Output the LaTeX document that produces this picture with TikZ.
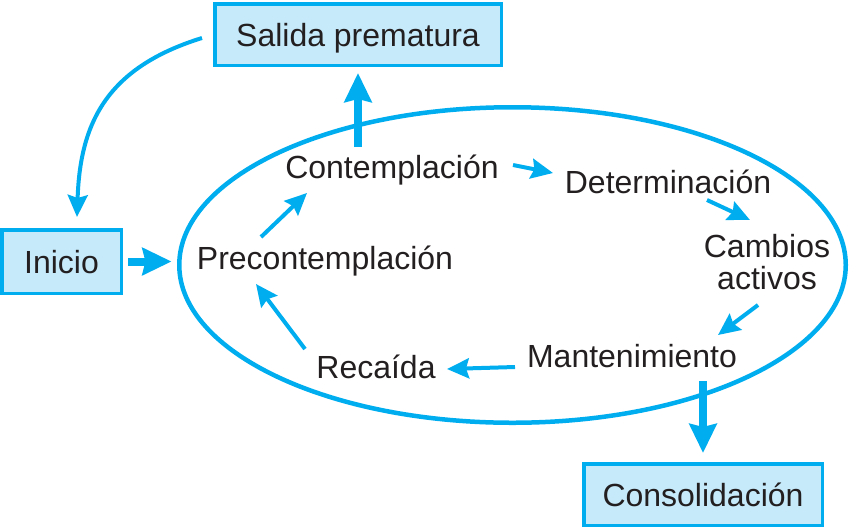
\documentclass[tikz,border=0pt]{standalone}
\usepackage{fontspec}
\setmainfont{Liberation Sans}
\usetikzlibrary{arrows.meta,shapes.geometric,calc}
\definecolor{cyanline}{RGB}{0,174,239}
\definecolor{boxfill}{RGB}{198,234,250}
\definecolor{ink}{RGB}{35,31,32}
\begin{document}
\begin{tikzpicture}[x=1pt,y=-1pt,
  every node/.style={font=\fontsize{32}{32}\selectfont, text=ink},
  lbl/.style={inner sep=0pt, outer sep=0pt, text height=24pt, text depth=7pt},
  stagebox/.style={draw=cyanline, line width=3.5pt, fill=boxfill, inner sep=0pt, text height=24pt, text depth=0pt},
  thinarr/.style={draw=cyanline, line width=4pt, -{Stealth[length=22pt,width=20pt,inset=3pt]}},
  thickarr/.style={draw=cyanline, line width=8pt, -{Stealth[length=29pt,width=27pt,inset=3pt]}}]
\useasboundingbox (0,0) rectangle (850,528);

% cycle ellipse
\node[draw=cyanline, line width=4.5pt, ellipse, minimum width=666.5pt, minimum height=315.5pt, inner sep=0pt] (ell) at (512.5,265) {};

% boxes
\node[stagebox, minimum width=286.5pt, minimum height=61.5pt] (sal) at (358,34.5) {Salida prematura};
\node[stagebox, minimum width=119.5pt, minimum height=63.5pt] (ini) at (61.5,261.5) {Inicio};
\node[stagebox, minimum width=238.5pt, minimum height=61.5pt] (cons) at (703,494.5) {Consolidación};

% stage labels
\node[lbl, anchor=base] (cont) at (392,178) {Contemplación};
\node[lbl, anchor=base] (det) at (668,193) {Determinación};
\node[inner sep=0pt, outer sep=0pt, align=center] (cam) at (767,262.4) {Cambios\\activos};
\node[lbl, anchor=base] (mant) at (632,367) {Mantenimiento};
\node[lbl, anchor=base] (rec) at (376,378) {Recaída};
\node[lbl, anchor=base] (prec) at (325,269) {Precontemplación};

% cycle arrows
\draw[thinarr] ([shift={(121,-13)}]cont.base) -- ([shift={(-115,-20)}]det.base);
\draw[thinarr] ([shift={(39,7)}]det.base) -- ([shift={(-17,-42.4)}]cam.center);
\draw[thinarr] ([shift={(-9,42.6)}]cam.center) -- ([shift={(86,-32)}]mant.base);
\draw[thinarr] ([shift={(-117,0)}]mant.base) -- ([shift={(71,-9)}]rec.base);
\draw[thinarr] ([shift={(-71,-29)}]rec.base) -- ([shift={(-69,15)}]prec.base);
\draw[thinarr] ([shift={(-64,-32)}]prec.base) -- ([shift={(-85,15)}]cont.base);

% thick arrows
\draw[thickarr, shorten <=7pt, shorten >=6pt] (sal.south |- cont.north) -- (sal.south);
\draw[thickarr, shorten <=7pt, shorten >=9pt] (cons.north |- mant.south) -- (cons.north);
\draw[thickarr, shorten <=5pt, shorten >=5.5pt] (ini.east) -- (ini.east -| ell.west);

% return curve
\draw[thinarr] ([shift={(-11,3.5)}]sal.west) .. controls +(-97,30) and +(3,-92) .. ([shift={(15.5,-11)}]ini.north);
\end{tikzpicture}
\end{document}
